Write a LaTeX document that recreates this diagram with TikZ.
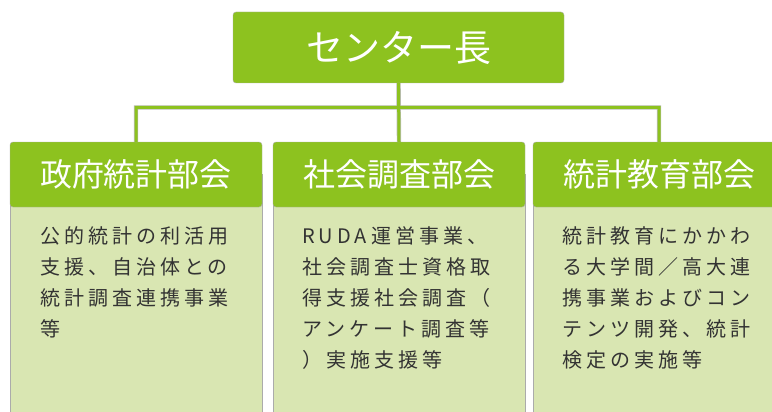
\documentclass[tikz,border=0pt]{standalone}
\usepackage{fontspec}
\newfontfamily\jphead{Noto Sans CJK JP}
\newfontfamily\jpbody[LetterSpace=20]{Noto Sans CJK JP}
\usetikzlibrary{positioning}

\definecolor{headgreen}{HTML}{8DC21F}
\definecolor{bodygreen}{HTML}{D9E6B2}
\definecolor{framegray}{HTML}{ABABAB}
\definecolor{textgray}{HTML}{333333}

\tikzset{
  chiefbox/.style={draw=framegray, fill=headgreen, rounded corners=3pt, minimum width=331pt, minimum height=71pt, text=white, font=\jphead\fontsize{37}{40}\selectfont},
  depthead/.style={draw=framegray, fill=headgreen, rounded corners=3pt, minimum width=252pt, minimum height=65pt, text=white, font=\jphead\fontsize{32}{36}\selectfont},
  deptbody/.style={draw=framegray, fill=bodygreen, anchor=north, minimum width=252pt, minimum height=280pt},
  bodytext/.style={anchor=north west, inner sep=0pt, align=left, text=textgray, font=\jpbody\fontsize{20}{31}\selectfont},
  conn/.style={draw=headgreen, line width=3pt, preaction={draw=framegray!80, line width=4.4pt}}
}

\begin{document}
\begin{tikzpicture}[x=1pt, y=-1pt]
  \useasboundingbox (0,0) rectangle (772,412);
  \clip (0,0) rectangle (772,412);

  \node[chiefbox] (chief) at (398.5,47.5) {センター長};
  \coordinate (bus) at (398.5,107.5);

  % departments
  \node[deptbody] (govbody) at (136,174) {};
  \node[depthead] (gov) at (136,174.5) {政府統計部会};
  \node[deptbody] (socbody) at (399,174) {};
  \node[depthead] (soc) at (399,174.5) {社会調査部会};
  \node[deptbody] (edubody) at (659,174) {};
  \node[depthead] (edu) at (659,174.5) {統計教育部会};

  \node[bodytext] (govtext) at (40,226) {公的統計の利活用\\支援、自治体との\\統計調査連携事業\\等};
  \node[bodytext] (soctext) at (302,226) {RUDA運営事業、\\社会調査士資格取\\得支援社会調査（\\アンケート調査等\\）実施支援等};
  \node[bodytext] (edutext) at (562,226) {統計教育にかかわ\\る大学間／高大連\\携事業およびコン\\テンツ開発、統計\\検定の実施等};

  \draw[conn] (chief.south) -- (soc.north) (gov.north) |- (bus) -| (edu.north);
\end{tikzpicture}
\end{document}
